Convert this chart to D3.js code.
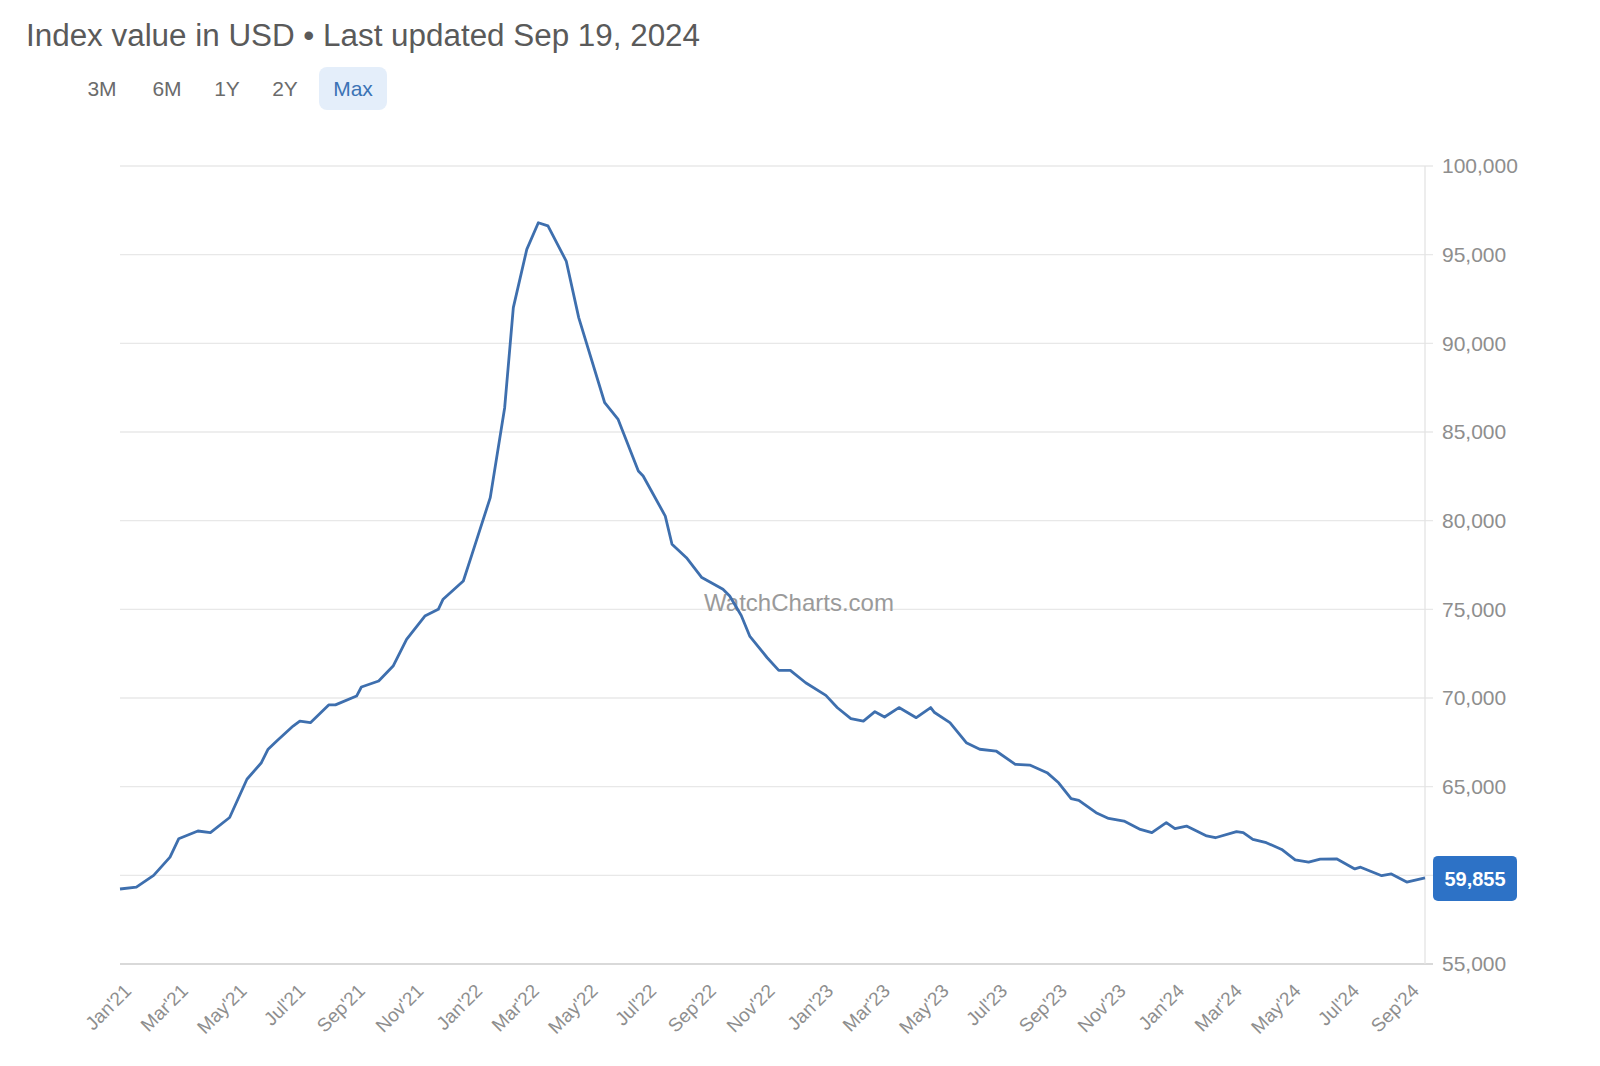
<!DOCTYPE html>
<html>
<head>
<meta charset="utf-8">
<script src="https://cdn.jsdelivr.net/npm/d3@7"></script>
<style>
  html, body { margin: 0; padding: 0; background: #ffffff; }
  svg { display: block; font-family: "Liberation Sans", Arial, Helvetica, sans-serif; }
</style>
</head>
<body>
<svg id="chart" width="1600" height="1066"></svg>
<script>
// ---------- DATA ----------
const titleText = "Index value in USD \u2022 Last updated Sep 19, 2024";
const rangeButtons = ["3M", "6M", "1Y", "2Y", "Max"];
const activeButton = "Max";
const watermarkText = "WatchCharts.com";

const dates = [
  "2021-01-01","2021-01-18","2021-02-05","2021-02-22","2021-03-03","2021-03-23","2021-04-05","2021-04-25",
  "2021-05-13","2021-05-28","2021-06-04","2021-06-13","2021-06-30","2021-07-07","2021-07-18","2021-08-06",
  "2021-08-13","2021-09-04","2021-09-09","2021-09-27","2021-10-12","2021-10-26","2021-11-14","2021-11-28",
  "2021-12-03","2021-12-24","2022-01-02","2022-01-21","2022-02-05","2022-02-14","2022-02-28","2022-03-12",
  "2022-03-22","2022-04-10","2022-04-23","2022-05-20","2022-06-03","2022-06-24","2022-06-29","2022-07-22",
  "2022-07-29","2022-08-13","2022-08-29","2022-09-20","2022-09-27","2022-10-09","2022-10-18","2022-11-05",
  "2022-11-17","2022-11-29","2022-12-15","2023-01-05","2023-01-17","2023-01-31","2023-02-13","2023-02-25",
  "2023-03-07","2023-03-22","2023-04-09","2023-04-24","2023-04-28","2023-05-14","2023-05-31","2023-06-14",
  "2023-07-01","2023-07-21","2023-08-05","2023-08-23","2023-09-04","2023-09-17","2023-09-25","2023-10-13",
  "2023-10-26","2023-11-11","2023-11-28","2023-12-10","2023-12-25","2024-01-03","2024-01-15","2024-02-05",
  "2024-02-14","2024-03-07","2024-03-14","2024-03-24","2024-04-07","2024-04-23","2024-05-07","2024-05-21",
  "2024-06-02","2024-06-19","2024-07-08","2024-07-14","2024-08-05","2024-08-15","2024-08-31","2024-09-19"
];
const values = [
  59230,59330,60000,61030,62060,62500,62410,63260,
  65420,66350,67110,67580,68420,68700,68610,69610,
  69610,70110,70620,70960,71800,73310,74620,75000,
  75570,76600,78100,81300,86370,92010,95300,96800,
  96620,94640,91450,86650,85710,82800,82520,80260,
  78670,77910,76790,76130,75750,74650,73470,72270,
  71560,71560,70860,70150,69450,68840,68700,69230,
  68930,69460,68890,69460,69180,68610,67480,67110,
  67010,66260,66220,65790,65220,64320,64230,63530,
  63210,63060,62590,62410,62970,62630,62780,62220,
  62120,62460,62410,62030,61840,61460,60870,60740,
  60910,60930,60360,60460,59980,60080,59620,59855
];
const lastValueLabel = "59,855";

const yTicks = [55000, 60000, 65000, 70000, 75000, 80000, 85000, 90000, 95000, 100000];
// the 60,000 label is covered by the last-value badge in the reference
const yHiddenLabel = 60000;
const xTickDates = [
  "2021-01-01","2021-03-01","2021-05-01","2021-07-01","2021-09-01","2021-11-01",
  "2022-01-01","2022-03-01","2022-05-01","2022-07-01","2022-09-01","2022-11-01",
  "2023-01-01","2023-03-01","2023-05-01","2023-07-01","2023-09-01","2023-11-01",
  "2024-01-01","2024-03-01","2024-05-01","2024-07-01","2024-09-01"
];
const xDomain = ["2021-01-01", "2024-09-19"];
const yDomain = [55000, 100000];

(function () {
// ---------- SETUP ----------
const parse = d3.timeParse("%Y-%m-%d");
const series = dates.map((d, i) => ({ date: parse(d), value: values[i] }));

const svg = d3.select("#chart");
const pLeft = 120, pRight = 1425, pTop = 166, pBottom = 964;

const x = d3.scaleTime().domain(xDomain.map(parse)).range([pLeft, pRight]);
const y = d3.scaleLinear().domain(yDomain).range([pBottom, pTop]);

// ---------- HEADER ----------
svg.append("text")
  .attr("x", 26).attr("y", 46)
  .attr("font-size", 31)
  .attr("fill", "#5a5a5a")
  .attr("textLength", 674)
  .attr("lengthAdjust", "spacingAndGlyphs")
  .text(titleText);

const btnCenters = [102, 167, 227, 285, 353];
rangeButtons.forEach((b, i) => {
  if (b === activeButton) {
    svg.append("rect")
      .attr("x", 319).attr("y", 67).attr("width", 68).attr("height", 43)
      .attr("rx", 8).attr("fill", "#e4eefa");
  }
  svg.append("text")
    .attr("x", btnCenters[i]).attr("y", 96)
    .attr("text-anchor", "middle")
    .attr("font-size", 21)
    .attr("fill", b === activeButton ? "#3b73b5" : "#6b6b6b")
    .text(b);
});

// ---------- GRID ----------
const grid = svg.append("g");
grid.selectAll("line.grid")
  .data(yTicks)
  .join("line")
  .attr("class", "grid")
  .attr("x1", pLeft).attr("x2", pRight + 8)
  .attr("y1", d => y(d)).attr("y2", d => y(d))
  .attr("stroke", d => d === yDomain[0] ? "#d9d9d9" : "#e8e8e8")
  .attr("stroke-width", d => d === yDomain[0] ? 2 : 1.3);

grid.append("line")
  .attr("x1", pRight).attr("x2", pRight)
  .attr("y1", pTop).attr("y2", pBottom)
  .attr("stroke", "#e3e3e3").attr("stroke-width", 1.3);

// ---------- Y AXIS ----------
const yAxis = d3.axisRight(y)
  .tickValues(yTicks.filter(v => v !== yHiddenLabel))
  .tickSize(0)
  .tickPadding(17)
  .tickFormat(d3.format(","));
const yg = svg.append("g").attr("transform", `translate(${pRight},0)`).call(yAxis);
yg.select(".domain").remove();
yg.selectAll("text")
  .attr("font-size", 21)
  .attr("fill", "#8e8e8e")
  .attr("font-family", "Liberation Sans, Arial, sans-serif");

// ---------- X AXIS ----------
const fmt = d3.timeFormat("%b'%y");
const xAxis = d3.axisBottom(x)
  .tickValues(xTickDates.map(parse))
  .tickSize(0)
  .tickPadding(0)
  .tickFormat(fmt);
const xg = svg.append("g").attr("transform", `translate(0,${pBottom})`).call(xAxis);
xg.select(".domain").remove();
xg.selectAll("text")
  .attr("font-size", 19)
  .attr("fill", "#8e8e8e")
  .attr("font-family", "Liberation Sans, Arial, sans-serif")
  .attr("text-anchor", "end")
  .attr("dy", null)
  .attr("y", 0)
  .attr("transform", "translate(12,28) rotate(-45)");

// ---------- WATERMARK ----------
svg.append("text")
  .attr("x", 799).attr("y", 611)
  .attr("text-anchor", "middle")
  .attr("font-size", 24)
  .attr("fill", "#9a9a9a")
  .text(watermarkText);

// ---------- LINE ----------
const line = d3.line().x(d => x(d.date)).y(d => y(d.value));
svg.append("path")
  .datum(series)
  .attr("fill", "none")
  .attr("stroke", "#3e6fae")
  .attr("stroke-width", 2.8)
  .attr("stroke-linejoin", "round")
  .attr("d", line);

// ---------- LAST VALUE BADGE ----------
const last = series[series.length - 1];
const by = y(last.value);
svg.append("rect")
  .attr("x", pRight + 8).attr("y", by - 22)
  .attr("width", 84).attr("height", 45)
  .attr("rx", 5)
  .attr("fill", "#2d72c6");
svg.append("text")
  .attr("x", pRight + 50).attr("y", by + 8)
  .attr("text-anchor", "middle")
  .attr("font-size", 20)
  .attr("font-weight", "bold")
  .attr("fill", "#ffffff")
  .text(lastValueLabel);
})();
</script>
</body>
</html>
